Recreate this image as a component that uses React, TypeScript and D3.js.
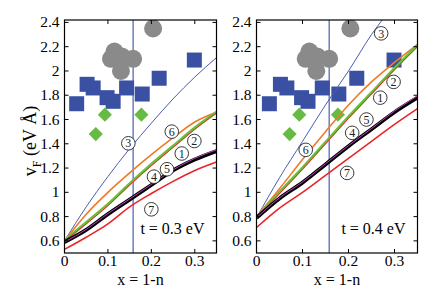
import React from 'react';
import * as d3 from 'd3';

// x grid shared by all model curves
const xGrid = [0, 0.05, 0.1, 0.15, 0.2, 0.25, 0.3, 0.35];

// t = 0.3 eV curves (labels 1..7)
const left1 = [0.6, 0.74, 0.89, 1.06, 1.22, 1.37, 1.52, 1.655];
const left2 = [0.6, 0.75, 0.9, 1.07, 1.23, 1.38, 1.53, 1.66];
const left3 = [0.6, 0.88, 1.13, 1.36, 1.57, 1.77, 1.95, 2.11];
const left4 = [0.59, 0.69, 0.82, 0.94, 1.06, 1.18, 1.27, 1.34];
const left5 = [0.59, 0.695, 0.825, 0.945, 1.065, 1.185, 1.28, 1.35];
const left6 = [0.6, 0.82, 1.0, 1.16, 1.31, 1.45, 1.58, 1.66];
const left7 = [0.53, 0.63, 0.74, 0.88, 0.99, 1.09, 1.18, 1.25];

// t = 0.4 eV curves
const right1 = [0.79, 0.99, 1.19, 1.4, 1.61, 1.81, 2.01, 2.2];
const right2 = [0.79, 1.0, 1.2, 1.41, 1.62, 1.82, 2.02, 2.21];
const right3 = [0.79, 1.12, 1.42, 1.72, 2.0, 2.3, 2.55, 2.8];
const right4 = [0.79, 0.95, 1.08, 1.23, 1.38, 1.52, 1.66, 1.78];
const right5 = [0.79, 0.955, 1.085, 1.235, 1.385, 1.525, 1.67, 1.795];
const right6 = [0.8, 1.03, 1.27, 1.5, 1.72, 1.91, 2.07, 2.22];
const right7 = [0.71, 0.87, 1.0, 1.14, 1.28, 1.42, 1.56, 1.69];

// experimental points (same in both panels)
const squareX = [0.028, 0.052, 0.066, 0.098, 0.112, 0.143, 0.179, 0.218, 0.299];
const squareY = [1.73, 1.89, 1.86, 1.78, 1.75, 1.86, 1.81, 1.94, 2.09];
const diamondX = [0.072, 0.093, 0.177];
const diamondY = [1.48, 1.64, 1.64];
const circleX = [0.115, 0.107, 0.132, 0.158, 0.13, 0.204];
const circleY = [2.16, 2.1, 2.12, 2.1, 2.0, 2.35];

const xTicks = [0, 0.1, 0.2, 0.3];
const yTicks = [0.6, 0.8, 1, 1.2, 1.4, 1.6, 1.8, 2, 2.2, 2.4];
const vLineX = 0.158;

// circled-number label positions
const leftLabelX = [0.27, 0.299, 0.147, 0.206, 0.236, 0.247, 0.2];
const leftLabelY = [1.32, 1.423, 1.404, 1.129, 1.19, 1.5, 0.86];
const rightLabelX = [0.269, 0.298, 0.271, 0.208, 0.239, 0.107, 0.197];
const rightLabelY = [1.78, 1.91, 2.31, 1.49, 1.6, 1.35, 1.16];

const font = '"Liberation Serif", "Times New Roman", serif';

const curveStyles = [
  { color: '#e03030', width: 1 },    // 1 (under green)
  { color: '#6cbf3c', width: 3 },    // 2
  { color: '#4a5db0', width: 1 },    // 3
  { color: '#000000', width: 3.8 },  // 4
  { color: '#c040c0', width: 1 },    // 5
  { color: '#f07a28', width: 1.6 },  // 6
  { color: '#e8262a', width: 1.6 },  // 7
];
const drawOrder = [2, 5, 1, 0, 3, 4, 6];

function Panel({ id, left, right, curves, labelX, labelY, tLabel, showYLabel }) {
  const top = 20;
  const bottom = 253;
  const x = d3.scaleLinear().domain([0, 0.35]).range([left, right]);
  const y = d3.scaleLinear().domain([0.5, 2.42]).range([bottom, top]);
  const line = d3
    .line<number>()
    .x((_, i) => x(xGrid[i]))
    .y((d) => y(d))
    .curve(d3.curveMonotoneX);

  return (
    <g fontFamily={font}>
      <defs>
        <clipPath id={id}>
          <rect x={left} y={top} width={right - left} height={bottom - top} />
        </clipPath>
      </defs>
      <g clipPath={`url(#${id})`}>
        <line x1={x(vLineX)} x2={x(vLineX)} y1={top} y2={bottom} stroke="#4a5db0" strokeWidth={1.2} />
        {circleX.map((cx, i) => (
          <circle key={i} cx={x(cx)} cy={y(circleY[i])} r={9} fill="#8a8a8a" />
        ))}
        {squareX.map((sx, i) => (
          <rect key={i} x={x(sx) - 7.5} y={y(squareY[i]) - 7.5} width={15} height={15} fill="#3a51a3" />
        ))}
        {diamondX.map((dx, i) => (
          <path
            key={i}
            d={d3.symbol(d3.symbolSquare, 100)() || ''}
            transform={`translate(${x(dx)},${y(diamondY[i])}) rotate(45)`}
            fill="#66bb44"
          />
        ))}
        {drawOrder.map((k) => (
          <path
            key={k}
            d={line(curves[k]) || ''}
            fill="none"
            stroke={curveStyles[k].color}
            strokeWidth={curveStyles[k].width}
          />
        ))}
      </g>
      {labelX.map((lx, i) => (
        <g key={i} transform={`translate(${x(lx)},${y(labelY[i])})`}>
          <circle r={6.8} fill="white" stroke="#222" strokeWidth={0.9} />
          <text textAnchor="middle" dy={4.2} fontSize={12} fill="#222">
            {i + 1}
          </text>
        </g>
      ))}
      <rect x={left} y={top} width={right - left} height={bottom - top} fill="none" stroke="#000" strokeWidth={1.2} />
      {xTicks.map((t) => (
        <g key={t}>
          <line x1={x(t)} x2={x(t)} y1={bottom} y2={bottom - 4} stroke="#000" />
          <line x1={x(t)} x2={x(t)} y1={top} y2={top + 4} stroke="#000" />
          <text x={x(t)} y={266} textAnchor="middle" fontSize={15.5}>
            {d3.format('~g')(t)}
          </text>
        </g>
      ))}
      {yTicks.map((t) => (
        <g key={t}>
          <line x1={left} x2={left + 4} y1={y(t)} y2={y(t)} stroke="#000" />
          <line x1={right} x2={right - 4} y1={y(t)} y2={y(t)} stroke="#000" />
          <text x={left - 5} y={y(t) + 5} textAnchor="end" fontSize={15.5}>
            {d3.format('~g')(t)}
          </text>
        </g>
      ))}
      <text x={(left + right) / 2} y={285} textAnchor="middle" fontSize={16}>
        x = 1-n
      </text>
      <text x={right - 12} y={234} textAnchor="end" fontSize={16}>
        {tLabel}
      </text>
      {showYLabel && (
        <text transform="translate(36,141) rotate(-90)" textAnchor="middle" fontSize={18}>
          v
          <tspan fontSize={12} dy={5}>F</tspan>
          <tspan dy={-5}> (eV Å)</tspan>
        </text>
      )}
    </g>
  );
}

export default function App() {
  return (
    <svg width={440} height={297} style={{ position: 'absolute', left: 0, top: 0, background: 'white' }}>
      <Panel
        id="clipL"
        left={64.5}
        right={216.5}
        curves={[left1, left2, left3, left4, left5, left6, left7]}
        labelX={leftLabelX}
        labelY={leftLabelY}
        tLabel="t = 0.3 eV"
        showYLabel
      />
      <Panel
        id="clipR"
        left={256.5}
        right={417.5}
        curves={[right1, right2, right3, right4, right5, right6, right7]}
        labelX={rightLabelX}
        labelY={rightLabelY}
        tLabel="t = 0.4 eV"
        showYLabel={false}
      />
    </svg>
  );
}
